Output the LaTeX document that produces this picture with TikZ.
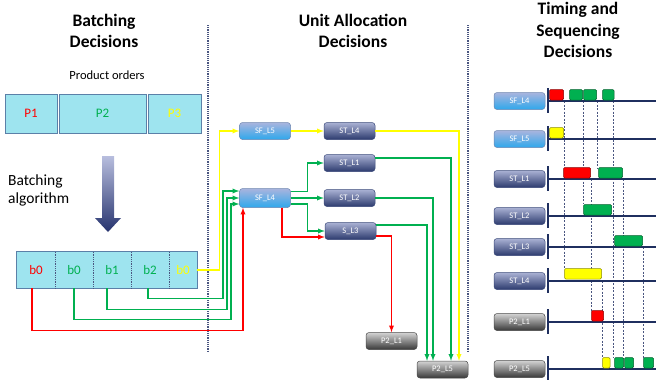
\documentclass[tikz,border=0pt]{standalone}
\usepackage{fontspec}
\setmainfont{Carlito}
\usetikzlibrary{arrows,positioning}
\definecolor{cellfill}{HTML}{9EE4EF}
\definecolor{cellline}{HTML}{5B80A8}
\definecolor{gtgreen}{HTML}{00B050}
\definecolor{gtred}{HTML}{FF0000}
\definecolor{gtyellow}{HTML}{FFFF00}
\definecolor{axisblue}{HTML}{1F2F5F}
\definecolor{sepline}{HTML}{4A5680}
\definecolor{sftop}{HTML}{A9B4DE}
\definecolor{sfbot}{HTML}{2EA8EC}
\definecolor{sfedge}{HTML}{6E86B0}
\definecolor{sttop}{HTML}{AAB2D4}
\definecolor{stbot}{HTML}{2C3A6E}
\definecolor{stedge}{HTML}{3B4A7A}
\definecolor{ptop}{HTML}{D4D4D4}
\definecolor{pbot}{HTML}{383838}
\definecolor{pedge}{HTML}{4A4A4A}
\definecolor{arrtop}{HTML}{B8BEDE}
\definecolor{arrbot}{HTML}{26336E}
\tikzset{
  heading/.style={font=\bfseries\fontsize{17.5}{21.5}\selectfont, align=center, inner sep=0pt},
  unitbox/.style={rounded corners=3pt, minimum width=51pt, minimum height=17pt, inner sep=0pt,
    text=white, font=\fontsize{8.5}{9}\selectfont, line width=0.5pt},
  sfbox/.style={unitbox, draw=sfedge, top color=sftop, bottom color=sfbot},
  stbox/.style={unitbox, draw=stedge, top color=sttop, bottom color=stbot},
  pbox/.style={unitbox, draw=pedge, top color=ptop, bottom color=pbot},
  orderbox/.style={draw=cellline, fill=cellfill, line width=0.8pt, minimum height=39pt, inner sep=0pt,
    font=\fontsize{13}{14}\selectfont},
  batchcell/.style={fill=cellfill, minimum height=36pt, inner sep=0pt, font=\fontsize{13}{14}\selectfont},
  yflow/.style={draw=gtyellow, line width=1.3pt, -latex},
  gflow/.style={draw=gtgreen, line width=1.3pt, -latex},
  rflow/.style={draw=gtred, line width=1.3pt, -latex},
  sepdots/.style={densely dotted, draw=sepline, line width=1.2pt},
  axisline/.style={draw=axisblue, line width=1.6pt},
  ganttbar/.style={fill=#1, draw=#1!55!black, line width=0.5pt, rounded corners=1.2pt},
  guide/.style={dash pattern=on 2pt off 1.5pt, draw=sepline, line width=0.5pt}
}
\begin{document}
\begin{tikzpicture}[x=1pt,y=-1pt]
    \useasboundingbox (0,0) rectangle (656,380);

    % column headings
    \node[heading] (hbatch) at (104,31) {Batching\\Decisions};
    \node[heading] (halloc) at (353,31) {Unit Allocation\\Decisions};
    \node[heading] (htiming) at (578,30) {Timing and\\Sequencing\\Decisions};
    \draw[sepdots] (208,25) -- (208,351);
    \draw[sepdots] (468,25) -- (468,352);

    % orders and batches
    \node[font=\fontsize{12.5}{14}\selectfont] (orders) at (107,75) {Product orders};
    \node[orderbox, minimum width=52pt] (p1) at (31,113.5) {\textcolor{gtred}{P1}};
    \node[orderbox, minimum width=87pt] (p2) at (102.5,113.5) {\textcolor{gtgreen}{P2}};
    \node[orderbox, minimum width=53pt] (p3) at (174.5,113.5) {\textcolor{gtyellow}{P3}};
    \shade[top color=arrtop, bottom color=arrbot] (102,156) -- (114,156) -- (114,218) -- (121,218)
        -- (108,232) -- (95,218) -- (102,218) -- cycle;
    \node[anchor=north west, align=left, inner sep=0pt, font=\fontsize{15.5}{18}\selectfont] (algo) at (8,175) {Batching\\algorithm};

    \node[batchcell, minimum width=38pt] (b0r) at (36,270) {\textcolor{gtred}{b0}};
    \node[batchcell, minimum width=38pt] (b0g) at (74,270) {\textcolor{gtgreen}{b0}};
    \node[batchcell, minimum width=38pt] (b1) at (112,270) {\textcolor{gtgreen}{b1}};
    \node[batchcell, minimum width=38pt] (b2) at (150,270) {\textcolor{gtgreen}{b2}};
    \node[batchcell, minimum width=28pt] (b0y) at (183,270) {\textcolor{gtyellow}{b0}};
    \draw[cellline, line width=0.8pt] (b0r.north west) rectangle (b0y.south east);
    \foreach \c in {b0r,b0g,b1,b2}
        \draw[densely dotted, sepline, line width=0.8pt] (\c.north east) -- (\c.south east);

    % units
    \node[sfbox] (sfl5) at (265,131) {SF\_L5};
    \node[stbox] (stl4) at (349.5,131) {ST\_L4};
    \node[stbox] (stl1) at (349.5,163) {ST\_L1};
    \node[sfbox, minimum height=19pt] (sfl4) at (265,198) {SF\_L4};
    \node[stbox] (stl2) at (349.5,198) {ST\_L2};
    \node[stbox] (sl3) at (350.5,231) {S\_L3};
    \node[pbox] (p2l1) at (391.5,341) {P2\_L1};
    \node[pbox] (p2l5) at (442.5,369.5) {P2\_L5};

    \draw[yflow] (b0y.east) -- ++(22,0) |- (sfl5.west);
    \draw[gflow] ([xshift=-2pt]b2.south) |- ++(75,10) |- ([yshift=7pt]sfl4.west);
    \draw[gflow] ([xshift=-5pt]b1.south) |- ++(120,21) |- (sfl4.west);
    \draw[gflow] (b0g.south) |- ++(157,31) |- ([yshift=-6pt]sfl4.west);
    \draw[rflow] ([xshift=-4pt]b0r.south) |- ++(211,42) -| ([xshift=-22pt]sfl4.south);

    \draw[yflow] (sfl5.east) -- (stl4.west);
    \draw[gflow] ([yshift=6.5pt]sfl4.east) -- ++(17,0) |- (stl1.west);
    \draw[gflow] (sfl4.east) -- (stl2.west);
    \draw[gflow] ([yshift=-6pt]sfl4.east) -- ++(17,0) |- (sl3.west);
    \draw[rflow] ([xshift=17pt]sfl4.south) |- ([yshift=-6pt]sl3.west);

    \draw[yflow] (stl4.east) -| ([xshift=16.5pt]p2l5.north);
    \draw[gflow] ([yshift=5pt]stl1.east) -| ([xshift=8.5pt]p2l5.north);
    \draw[gflow] (stl2.east) -| ([xshift=-9.5pt]p2l5.north);
    \draw[gflow] ([yshift=6pt]sl3.east) -| ([xshift=-15.5pt]p2l5.north);
    \draw[rflow] ([yshift=-5pt]sl3.east) -| (p2l1.north);

    % schedule
    \foreach \x/\ya/\yb in {564/101/269, 583/101/204, 591/179/311, 597/101/168,
                            613/101/358, 623/179/358, 643/247/358, 602/281/358}
        \draw[guide] (\x,\ya) -- (\x,\yb);
    \foreach \nm/\sty/\txt/\y in {gsfl4/sfbox/SF\_L4/101, gsfl5/sfbox/SF\_L5/139,
                                  gstl1/stbox/ST\_L1/179, gstl2/stbox/ST\_L2/216,
                                  gstl3/stbox/ST\_L3/247, gstl4/stbox/ST\_L4/281,
                                  gp2l1/pbox/P2\_L1/322, gp2l5/pbox/P2\_L5/369} {
        \node[\sty] (\nm) at (519.5,\y) {\txt};
        \draw[axisline] (548,\y) -- (656,\y);
        \draw[axisline] (548,\y-13) -- (548,\y+12);
    }
    \foreach \x/\w/\y/\c in {549.5/14/101/gtred, 569.5/13/101/gtgreen, 583.5/13/101/gtgreen, 602.5/11.5/101/gtgreen,
                             549.5/14/139/gtyellow,
                             563.5/27/179/gtred, 598.5/24/179/gtgreen,
                             583.5/28/216/gtgreen,
                             614.5/28/247/gtgreen,
                             564.5/37/280/gtyellow,
                             591.5/12/322/gtred,
                             602.5/7.5/369/gtyellow, 614.5/9/369/gtgreen, 624.5/9/369/gtgreen, 643.5/10/369/gtgreen}
        \draw[ganttbar=\c] (\x,\y-1) rectangle ++(\w,-10.5);

\end{tikzpicture}
\end{document}
